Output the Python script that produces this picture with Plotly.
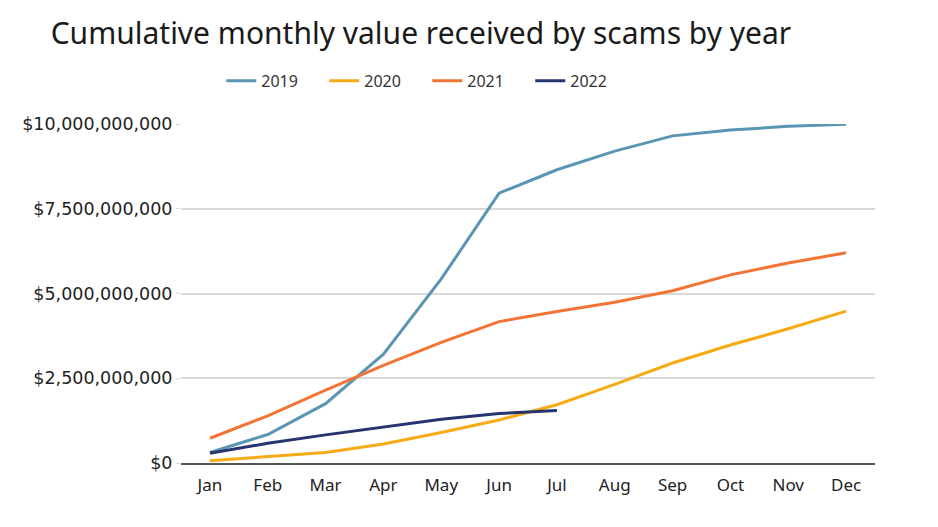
import plotly.graph_objects as go

months = ["Jan", "Feb", "Mar", "Apr", "May", "Jun", "Jul", "Aug", "Sep", "Oct", "Nov", "Dec"]
v2019 = [0.31e9, 0.84e9, 1.75e9, 3.21e9, 5.43e9, 7.96e9, 8.65e9, 9.20e9, 9.65e9, 9.82e9, 9.93e9, 9.99e9]
v2020 = [0.07e9, 0.19e9, 0.31e9, 0.56e9, 0.90e9, 1.27e9, 1.72e9, 2.32e9, 2.95e9, 3.48e9, 3.96e9, 4.48e9]
v2021 = [0.73e9, 1.39e9, 2.15e9, 2.88e9, 3.56e9, 4.17e9, 4.47e9, 4.74e9, 5.08e9, 5.55e9, 5.90e9, 6.20e9]
v2022 = [0.29e9, 0.58e9, 0.83e9, 1.05e9, 1.29e9, 1.46e9, 1.55e9]
series = [("2019", v2019, "#5a96b3"), ("2020", v2020, "#f6aa14"),
          ("2021", v2021, "#f47436"), ("2022", v2022, "#27346f")]
yticks = [0, 2.5e9, 5e9, 7.5e9, 10e9]
ytext = ["$0", "$2,500,000,000", "$5,000,000,000", "$7,500,000,000", "$10,000,000,000"]

fig = go.Figure()
for name, vals, col in series:
    fig.add_trace(go.Scatter(x=months[:len(vals)], y=vals, name=name, mode="lines",
                             line=dict(color=col, width=3)))

fig.update_layout(
    width=938, height=527,
    margin=dict(l=181, r=63, t=124, b=64),
    paper_bgcolor="white", plot_bgcolor="white",
    title=dict(text="Cumulative monthly value received by scams by year",
               x=0.054, xanchor="left", y=0.937, yanchor="middle",
               font=dict(family="Noto Sans", size=30, color="#1a1a1a")),
    legend=dict(orientation="h", x=0.058, xanchor="left", y=1.127, yanchor="middle",
                font=dict(family="Noto Sans", size=16, color="#333333"),
                itemwidth=30, entrywidth=58, entrywidthmode="pixels",
                bgcolor="rgba(0,0,0,0)"),
    xaxis=dict(type="category", categoryorder="array", categoryarray=months,
               range=[-0.5, 11.5], showgrid=False, showline=True, linecolor="#555555",
               linewidth=1.5, ticks="", ticklabelstandoff=6,
               tickfont=dict(family="Noto Sans", size=17, color="#222222")),
    yaxis=dict(range=[0, 10e9], tickvals=yticks, ticktext=ytext, showgrid=True,
               gridcolor="#d9d9d9", gridwidth=1.5, zeroline=False, showline=False,
               ticks="outside", ticklen=4, tickcolor="#d9d9d9",
               tickfont=dict(family="DejaVu Sans", size=17.5, color="#222222")),
)
fig.write_html("out.html")
